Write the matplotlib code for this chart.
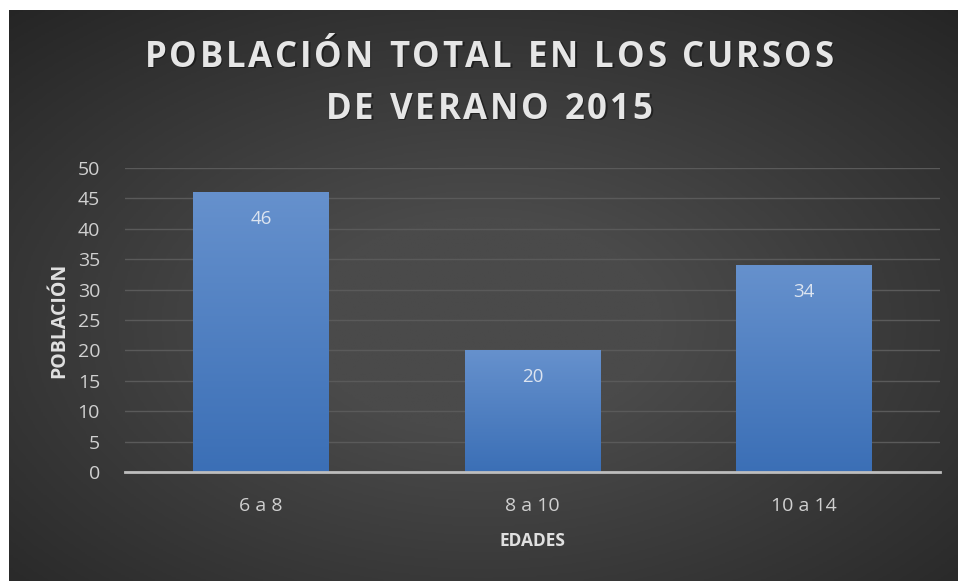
import numpy as np
import matplotlib
matplotlib.use("Agg")
import matplotlib.pyplot as plt
from matplotlib.colors import LinearSegmentedColormap

categories = ["6 a 8", "8 a 10", "10 a 14"]
poblacion = [46, 20, 34]
yticks = [0, 5, 10, 15, 20, 25, 30, 35, 40, 45, 50]
title_lines = ["POBLACIÓN TOTAL EN LOS CURSOS", "DE VERANO 2015"]

plt.rcParams["font.family"] = ["Open Sans", "DejaVu Sans"]

W, H = 958, 581
fig = plt.figure(figsize=(W / 100, H / 100), dpi=100)
fig.patch.set_facecolor("white")

# dark radial background of the chart area
bg = fig.add_axes([9 / W, 0, 1 - 9 / W, 1 - 10 / H])
bg.set_axis_off()
yy, xx = np.mgrid[0:1:300j, 0:1:500j]
r = np.sqrt(((xx - 0.5) / 0.75) ** 2 + ((yy - 0.55) / 0.75) ** 2)
shade = np.clip(1 - r, 0, 1)
bg_cmap = LinearSegmentedColormap.from_list("bg", ["#252525", "#4a4a4a"])
bg.imshow(shade, cmap=bg_cmap, aspect="auto", extent=[0, 1, 0, 1],
          vmin=0, vmax=0.75)
bg.set_xlim(0, 1)
bg.set_ylim(0, 1)

ax = fig.add_axes([125 / W, 1 - 472 / H, 815 / W, 304 / H])
ax.patch.set_alpha(0)
x = np.arange(len(categories))
bars = ax.bar(x, poblacion, width=0.5, color="none", zorder=3)

bar_cmap = LinearSegmentedColormap.from_list("bar", ["#3b6fb6", "#6691cd"])
grad = np.linspace(0, 1, 256).reshape(-1, 1)
for b, v in zip(bars, poblacion):
    x0 = b.get_x()
    im = ax.imshow(grad, cmap=bar_cmap, aspect="auto", origin="lower",
                   extent=[x0, x0 + b.get_width(), 0, v], zorder=3)
    im.set_clip_path(b)
    ax.text(b.get_x() + b.get_width() / 2, v - 4.4, str(v),
            ha="center", va="center", fontsize=13.5, color="#dce4f0", zorder=4)

ax.set_xlim(-0.5, 2.5)
ax.set_ylim(0, 50)
ax.set_yticks(yticks)
ax.set_xticks(x)
ax.set_xticklabels(categories)
ax.grid(axis="y", color="#5a5a5a", linewidth=1, zorder=1)
ax.tick_params(length=0, colors="#d0d0d0", labelsize=14)
ax.tick_params(axis="x", pad=18)
ax.tick_params(axis="y", pad=18)
for side in ["top", "right", "left"]:
    ax.spines[side].set_visible(False)
ax.spines["bottom"].set_color("#bdbdbd")
ax.spines["bottom"].set_linewidth(2)
ax.spines["bottom"].set_zorder(5)

ax.set_ylabel("POBLACIÓN", fontsize=14, fontweight="bold", color="#e0e0e0",
              labelpad=6)
ax.set_xlabel("EDADES", fontsize=12.5, fontweight="bold", color="#e0e0e0",
              labelpad=12)


def spaced_text(line, y_px, spacing=2.8, size=25):
    # draw a line of text with extra letter spacing, centred horizontally
    renderer = fig.canvas.get_renderer()
    widths = []
    for ch in line:
        t = fig.text(0, 0, ch if ch != " " else "n", fontsize=size,
                     fontweight="bold")
        w = t.get_window_extent(renderer).width
        if ch == " ":
            w *= 0.45
        widths.append(w)
        t.remove()
    total = sum(widths) + spacing * (len(line) - 1)
    xpos = (W - total) / 2 + 10
    for ch, w in zip(line, widths):
        if ch != " ":
            fig.text((xpos + 1.5) / W, 1 - (y_px + 1.5) / H, ch,
                     fontsize=size, fontweight="bold", color="#111111",
                     alpha=0.6, ha="left", va="center")
            fig.text(xpos / W, 1 - y_px / H, ch, fontsize=size,
                     fontweight="bold", color="#e6e6e6", ha="left",
                     va="center")
        xpos += w + spacing


spaced_text(title_lines[0], 58)
spaced_text(title_lines[1], 110)

fig.savefig("out.png", dpi=100, facecolor=fig.get_facecolor())
